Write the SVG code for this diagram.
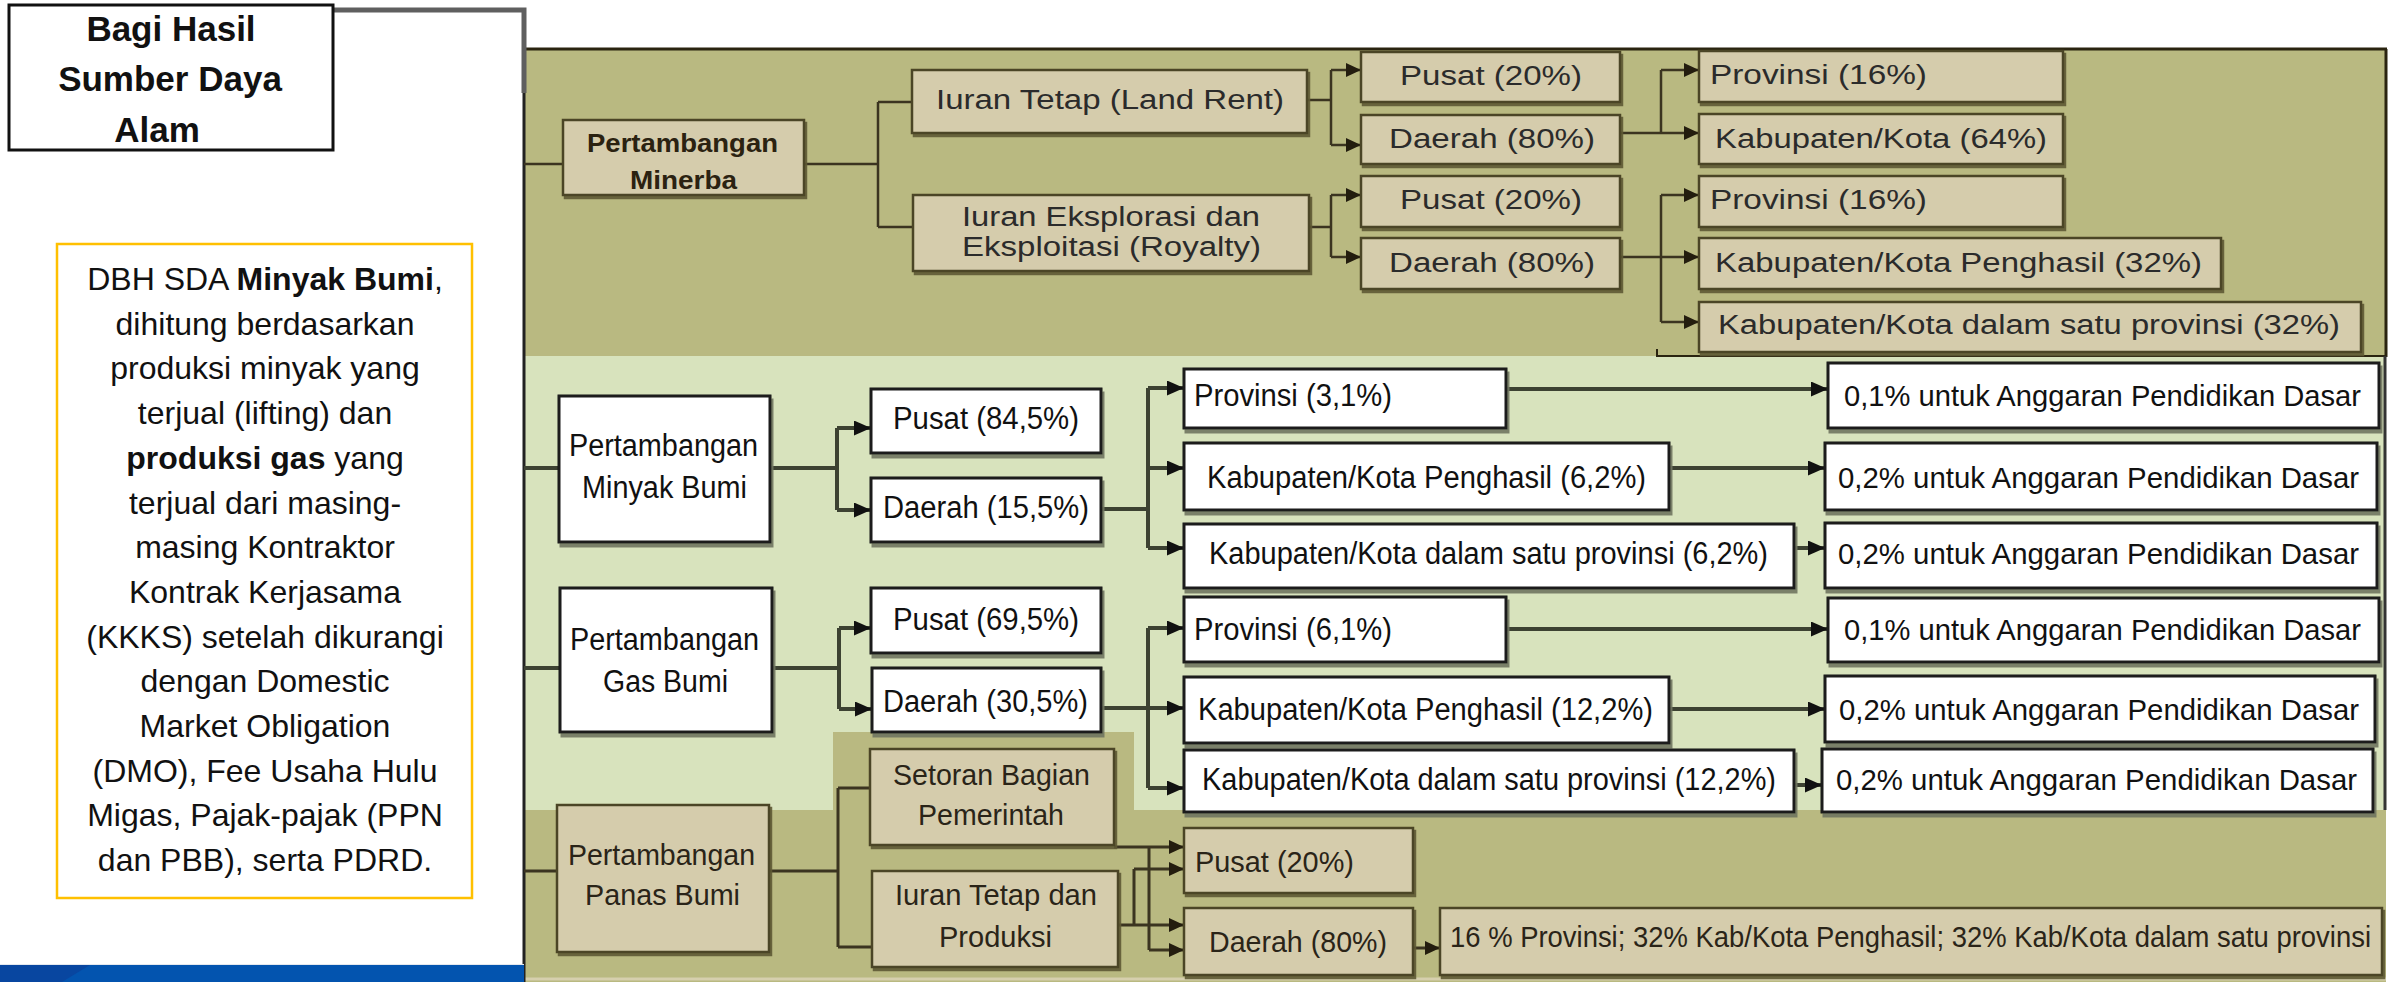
<svg xmlns="http://www.w3.org/2000/svg" width="2394" height="982" viewBox="0 0 2394 982">
<style>
text{font-family:"Liberation Sans",Arial,sans-serif;}
.tan{fill:#D5CCAC;stroke:#4b4426;stroke-width:2.5;filter:url(#shT);}
.wht{fill:#ffffff;stroke:#1b1b1b;stroke-width:3;filter:url(#shW);}
.tm{font-size:27px;fill:#2b2b2b;}
.tb{font-size:26px;fill:#2b2211;font-weight:bold;}
.tg{font-size:31px;fill:#111;}
.ta{font-size:29px;fill:#111;}
.tp{font-size:30px;fill:#2a2418;}
.cm{fill:none;stroke:#3b3420;stroke-width:2.5;}
.cg{fill:none;stroke:#3d4232;stroke-width:4;}
.cp{fill:none;stroke:#3b3420;stroke-width:3;}
.am{marker-end:url(#ahm);}
.ag{marker-end:url(#ahg);}
</style>
<defs>
<filter id="shT" x="-5%" y="-10%" width="115%" height="130%"><feDropShadow dx="2" dy="3" stdDeviation="0.6" flood-color="#5e5835" flood-opacity="0.9"/></filter>
<filter id="shW" x="-5%" y="-10%" width="115%" height="130%"><feDropShadow dx="2" dy="4" stdDeviation="0.6" flood-color="#6f7560" flood-opacity="0.9"/></filter>
<marker id="ahm" markerWidth="15" markerHeight="14" refX="15" refY="7" orient="auto" markerUnits="userSpaceOnUse"><path d="M0,0 L15,7 L0,14 z" fill="#231d0e"/></marker>
<marker id="ahg" markerWidth="17" markerHeight="15" refX="17" refY="7.5" orient="auto" markerUnits="userSpaceOnUse"><path d="M0,0 L17,7.5 L0,15 z" fill="#111"/></marker>
</defs>

<rect x="0" y="0" width="2394" height="982" fill="#ffffff"/>

<!-- panels -->
<g id="panels">
<rect x="524" y="49" width="1862" height="307" fill="#B9B981"/>
<rect x="524" y="356" width="1862" height="454" fill="#D8E3BD"/>
<path d="M524,810 H2386 V982 H524 Z M833,732 H1134 V810 H833 Z" fill="#B9B981"/>
<line x1="524" y1="979" x2="2386" y2="979" stroke="#d6cfae" stroke-width="3"/>
<line x1="524" y1="49" x2="2387" y2="49" stroke="#2a2410" stroke-width="3"/>
<line x1="2386" y1="49" x2="2386" y2="357" stroke="#2a2410" stroke-width="3"/>
<line x1="1657" y1="356" x2="2387" y2="356" stroke="#2a2410" stroke-width="2"/>
<line x1="1657" y1="349" x2="1657" y2="357" stroke="#2a2410" stroke-width="2"/>
<line x1="2385" y1="356" x2="2385" y2="810" stroke="#333" stroke-width="3"/>
<line x1="524" y1="49" x2="524" y2="982" stroke="#222" stroke-width="3"/>
<rect x="0" y="965" width="524" height="17" fill="#0354AF"/>
<polygon points="0,965 90,965 62,982 0,982" fill="#0846A0"/>
<line x1="0" y1="964.5" x2="524" y2="964.5" stroke="#e4e8ee" stroke-width="1"/>
</g>

<!-- title & note -->
<g id="title">
<path d="M333,10 H524 V93" fill="none" stroke="#5f5f5f" stroke-width="5"/>
<rect x="9" y="5" width="324" height="145" fill="#fff" stroke="#111" stroke-width="3"/>
<text x="171" y="41" font-size="35" font-weight="bold" text-anchor="middle" fill="#111">Bagi Hasil</text>
<text x="170" y="91" font-size="35" font-weight="bold" text-anchor="middle" fill="#111">Sumber Daya</text>
<text x="157" y="142" font-size="35" font-weight="bold" text-anchor="middle" fill="#111">Alam</text>
</g>

<g id="note" font-size="32" text-anchor="middle" fill="#111">
<rect x="57" y="244" width="415" height="654" fill="#fff" stroke="#FFC000" stroke-width="2.5"/>
<text x="265" y="290">DBH SDA <tspan font-weight="bold">Minyak Bumi</tspan>,</text>
<text x="265" y="334.7">dihitung berdasarkan</text>
<text x="265" y="379.4">produksi minyak yang</text>
<text x="265" y="424.1">terjual (lifting) dan</text>
<text x="265" y="468.8"><tspan font-weight="bold">produksi gas</tspan> yang</text>
<text x="265" y="513.5">terjual dari masing-</text>
<text x="265" y="558.2">masing Kontraktor</text>
<text x="265" y="602.9">Kontrak Kerjasama</text>
<text x="265" y="647.6">(KKKS) setelah dikurangi</text>
<text x="265" y="692.3">dengan Domestic</text>
<text x="265" y="737">Market Obligation</text>
<text x="265" y="781.7">(DMO), Fee Usaha Hulu</text>
<text x="265" y="826.4">Migas, Pajak-pajak (PPN</text>
<text x="265" y="871.1">dan PBB), serta PDRD.</text>
</g>

<!-- connectors -->
<g id="connectors">
<path class="cm" d="M524,164 H563 M804,164 H878 M878,102 V227 M878,102 H912 M878,227 H913"/>
<path class="cm" d="M1307,100 H1331 M1331,70 V145 M1309,227 H1331 M1331,195 V257"/>
<path class="cm am" d="M1331,70 H1361"/>
<path class="cm am" d="M1331,145 H1361"/>
<path class="cm am" d="M1331,195 H1361"/>
<path class="cm am" d="M1331,257 H1361"/>
<path class="cm" d="M1661,70 V133 M1661,195 V322"/>
<path class="cm am" d="M1620,133 H1699"/>
<path class="cm am" d="M1661,70 H1699"/>
<path class="cm am" d="M1620,257 H1699"/>
<path class="cm am" d="M1661,195 H1699"/>
<path class="cm am" d="M1661,322 H1699"/>

<path class="cg" d="M524,468 H559 M770,468 H837 M837,428 V510 M1101,509 H1148 M1148,388 V548"/>
<path class="cg ag" d="M837,428 H871"/>
<path class="cg ag" d="M837,510 H871"/>
<path class="cg ag" d="M1148,388 H1184"/>
<path class="cg ag" d="M1148,468 H1184"/>
<path class="cg ag" d="M1148,548 H1184"/>
<path class="cg ag" d="M1506,389 H1828"/>
<path class="cg ag" d="M1669,468 H1825"/>
<path class="cg ag" d="M1794,548 H1825"/>
<path class="cg" d="M524,668 H560 M772,668 H839 M839,628 V709 M1101,708 H1148 M1148,628 V788"/>
<path class="cg ag" d="M839,628 H871"/>
<path class="cg ag" d="M839,709 H872"/>
<path class="cg ag" d="M1148,628 H1184"/>
<path class="cg ag" d="M1148,708 H1184"/>
<path class="cg ag" d="M1148,788 H1184"/>
<path class="cg ag" d="M1506,629 H1828"/>
<path class="cg ag" d="M1669,709 H1825"/>
<path class="cg ag" d="M1794,785 H1822"/>

<path class="cp" d="M524,871 H557 M769,871 H838 M838,788 V947 M838,788 H870 M838,947 H872"/>
<path class="cp" d="M1114,847 H1149 M1149,847 V950 M1118,925 H1134 M1134,869 V925"/>
<path class="cp am" d="M1149,847 H1184"/>
<path class="cp am" d="M1149,950 H1184"/>
<path class="cp am" d="M1134,869 H1184"/>
<path class="cp am" d="M1134,925 H1184"/>
<path class="cp am" d="M1413,948 H1440"/>
</g>

<!-- Minerba -->
<g id="minerba"><rect class="tan" x="563" y="120" width="241" height="75"/>
<text class="tb" x="587" y="152" textLength="191" lengthAdjust="spacingAndGlyphs">Pertambangan</text>
<text class="tb" x="630" y="189" textLength="107" lengthAdjust="spacingAndGlyphs">Minerba</text></g>
<g id="iuran-tetap"><rect class="tan" x="912" y="70" width="395" height="63"/>
<text class="tm" x="936" y="109" textLength="348" lengthAdjust="spacingAndGlyphs">Iuran Tetap (Land Rent)</text></g>
<g id="iuran-eksplorasi"><rect class="tan" x="913" y="195" width="396" height="76"/>
<text class="tm" x="962" y="226" textLength="298" lengthAdjust="spacingAndGlyphs">Iuran Eksplorasi dan</text>
<text class="tm" x="962" y="256" textLength="299" lengthAdjust="spacingAndGlyphs">Eksploitasi (Royalty)</text></g>
<g id="m-pusat1"><rect class="tan" x="1361" y="52" width="259" height="50"/>
<text class="tm" x="1400" y="85" textLength="182" lengthAdjust="spacingAndGlyphs">Pusat (20%)</text></g>
<g id="m-daerah1"><rect class="tan" x="1361" y="115" width="259" height="49"/>
<text class="tm" x="1389" y="148" textLength="206" lengthAdjust="spacingAndGlyphs">Daerah (80%)</text></g>
<g id="m-prov1"><rect class="tan" x="1699" y="51" width="364" height="51"/>
<text class="tm" x="1710" y="84" textLength="217" lengthAdjust="spacingAndGlyphs">Provinsi (16%)</text></g>
<g id="m-kab64"><rect class="tan" x="1699" y="114" width="364" height="50"/>
<text class="tm" x="1715" y="148" textLength="332" lengthAdjust="spacingAndGlyphs">Kabupaten/Kota (64%)</text></g>
<g id="m-pusat2"><rect class="tan" x="1361" y="176" width="259" height="51"/>
<text class="tm" x="1400" y="209" textLength="182" lengthAdjust="spacingAndGlyphs">Pusat (20%)</text></g>
<g id="m-daerah2"><rect class="tan" x="1361" y="238" width="259" height="51"/>
<text class="tm" x="1389" y="272" textLength="206" lengthAdjust="spacingAndGlyphs">Daerah (80%)</text></g>
<g id="m-prov2"><rect class="tan" x="1699" y="176" width="364" height="51"/>
<text class="tm" x="1710" y="209" textLength="217" lengthAdjust="spacingAndGlyphs">Provinsi (16%)</text></g>
<g id="m-kabpeng"><rect class="tan" x="1699" y="238" width="522" height="51"/>
<text class="tm" x="1715" y="272" textLength="487" lengthAdjust="spacingAndGlyphs">Kabupaten/Kota Penghasil (32%)</text></g>
<g id="m-kabdalam"><rect class="tan" x="1699" y="302" width="662" height="50"/>
<text class="tm" x="1718" y="334" textLength="622" lengthAdjust="spacingAndGlyphs">Kabupaten/Kota dalam satu provinsi (32%)</text></g>

<!-- Minyak Bumi -->
<g id="minyak"><rect class="wht" x="559" y="396" width="211" height="146"/>
<text class="tg" x="569" y="456" textLength="189" lengthAdjust="spacingAndGlyphs">Pertambangan</text>
<text class="tg" x="582" y="498" textLength="165" lengthAdjust="spacingAndGlyphs">Minyak Bumi</text></g>
<g id="mb-pusat"><rect class="wht" x="871" y="389" width="230" height="64"/>
<text class="tg" x="893" y="429" textLength="186" lengthAdjust="spacingAndGlyphs">Pusat (84,5%)</text></g>
<g id="mb-daerah"><rect class="wht" x="871" y="478" width="230" height="64"/>
<text class="tg" x="883" y="518" textLength="206" lengthAdjust="spacingAndGlyphs">Daerah (15,5%)</text></g>
<g id="mb-prov"><rect class="wht" x="1184" y="369" width="322" height="59"/>
<text class="tg" x="1194" y="406" textLength="198" lengthAdjust="spacingAndGlyphs">Provinsi (3,1%)</text></g>
<g id="mb-kabpeng"><rect class="wht" x="1184" y="443" width="485" height="67"/>
<text class="tg" x="1207" y="488" textLength="439" lengthAdjust="spacingAndGlyphs">Kabupaten/Kota Penghasil (6,2%)</text></g>
<g id="mb-kabdalam"><rect class="wht" x="1184" y="524" width="610" height="64"/>
<text class="tg" x="1209" y="564" textLength="559" lengthAdjust="spacingAndGlyphs">Kabupaten/Kota dalam satu provinsi (6,2%)</text></g>
<g id="mb-a1"><rect class="wht" x="1828" y="363" width="551" height="65"/>
<text class="ta" x="1844" y="406" textLength="517" lengthAdjust="spacingAndGlyphs">0,1% untuk Anggaran Pendidikan Dasar</text></g>
<g id="mb-a2"><rect class="wht" x="1825" y="443" width="552" height="67"/>
<text class="ta" x="1838" y="488" textLength="521" lengthAdjust="spacingAndGlyphs">0,2% untuk Anggaran Pendidikan Dasar</text></g>
<g id="mb-a3"><rect class="wht" x="1825" y="523" width="552" height="65"/>
<text class="ta" x="1838" y="564" textLength="521" lengthAdjust="spacingAndGlyphs">0,2% untuk Anggaran Pendidikan Dasar</text></g>

<!-- Gas Bumi -->
<g id="gas"><rect class="wht" x="560" y="588" width="212" height="144"/>
<text class="tg" x="570" y="650" textLength="189" lengthAdjust="spacingAndGlyphs">Pertambangan</text>
<text class="tg" x="603" y="692" textLength="125" lengthAdjust="spacingAndGlyphs">Gas Bumi</text></g>
<g id="gb-pusat"><rect class="wht" x="871" y="588" width="230" height="65"/>
<text class="tg" x="893" y="630" textLength="186" lengthAdjust="spacingAndGlyphs">Pusat (69,5%)</text></g>
<g id="gb-daerah"><rect class="wht" x="872" y="668" width="229" height="64"/>
<text class="tg" x="883" y="712" textLength="205" lengthAdjust="spacingAndGlyphs">Daerah (30,5%)</text></g>
<g id="gb-prov"><rect class="wht" x="1184" y="597" width="322" height="65"/>
<text class="tg" x="1194" y="640" textLength="198" lengthAdjust="spacingAndGlyphs">Provinsi (6,1%)</text></g>
<g id="gb-kabpeng"><rect class="wht" x="1184" y="677" width="485" height="66"/>
<text class="tg" x="1198" y="720" textLength="455" lengthAdjust="spacingAndGlyphs">Kabupaten/Kota Penghasil (12,2%)</text></g>
<g id="gb-kabdalam"><rect class="wht" x="1184" y="750" width="610" height="62"/>
<text class="tg" x="1202" y="790" textLength="574" lengthAdjust="spacingAndGlyphs">Kabupaten/Kota dalam satu provinsi (12,2%)</text></g>
<g id="gb-a1"><rect class="wht" x="1828" y="598" width="551" height="64"/>
<text class="ta" x="1844" y="640" textLength="517" lengthAdjust="spacingAndGlyphs">0,1% untuk Anggaran Pendidikan Dasar</text></g>
<g id="gb-a2"><rect class="wht" x="1825" y="676" width="550" height="66"/>
<text class="ta" x="1839" y="720" textLength="520" lengthAdjust="spacingAndGlyphs">0,2% untuk Anggaran Pendidikan Dasar</text></g>
<g id="gb-a3"><rect class="wht" x="1822" y="749" width="551" height="63"/>
<text class="ta" x="1836" y="790" textLength="521" lengthAdjust="spacingAndGlyphs">0,2% untuk Anggaran Pendidikan Dasar</text></g>

<!-- Panas Bumi -->
<g id="panas"><rect class="tan" x="557" y="805" width="212" height="147"/>
<text class="tp" x="568" y="865" textLength="187" lengthAdjust="spacingAndGlyphs">Pertambangan</text>
<text class="tp" x="585" y="905" textLength="155" lengthAdjust="spacingAndGlyphs">Panas Bumi</text></g>
<g id="pb-setoran"><rect class="tan" x="870" y="749" width="244" height="96"/>
<text class="tp" x="893" y="785" textLength="197" lengthAdjust="spacingAndGlyphs">Setoran Bagian</text>
<text class="tp" x="918" y="825" textLength="146" lengthAdjust="spacingAndGlyphs">Pemerintah</text></g>
<g id="pb-iuran"><rect class="tan" x="872" y="871" width="246" height="96"/>
<text class="tp" x="895" y="905" textLength="202" lengthAdjust="spacingAndGlyphs">Iuran Tetap dan</text>
<text class="tp" x="939" y="947" textLength="113" lengthAdjust="spacingAndGlyphs">Produksi</text></g>
<g id="pb-pusat"><rect class="tan" x="1184" y="828" width="229" height="65"/>
<text class="tp" x="1195" y="872" textLength="159" lengthAdjust="spacingAndGlyphs">Pusat (20%)</text></g>
<g id="pb-daerah"><rect class="tan" x="1184" y="908" width="229" height="67"/>
<text class="tp" x="1209" y="952" textLength="178" lengthAdjust="spacingAndGlyphs">Daerah (80%)</text></g>
<g id="pb-rincian"><rect class="tan" x="1440" y="908" width="942" height="67"/>
<text class="tp" x="1450" y="947" font-size="26" textLength="921" lengthAdjust="spacingAndGlyphs">16 % Provinsi; 32% Kab/Kota Penghasil; 32% Kab/Kota dalam satu provinsi</text></g>
</svg>
